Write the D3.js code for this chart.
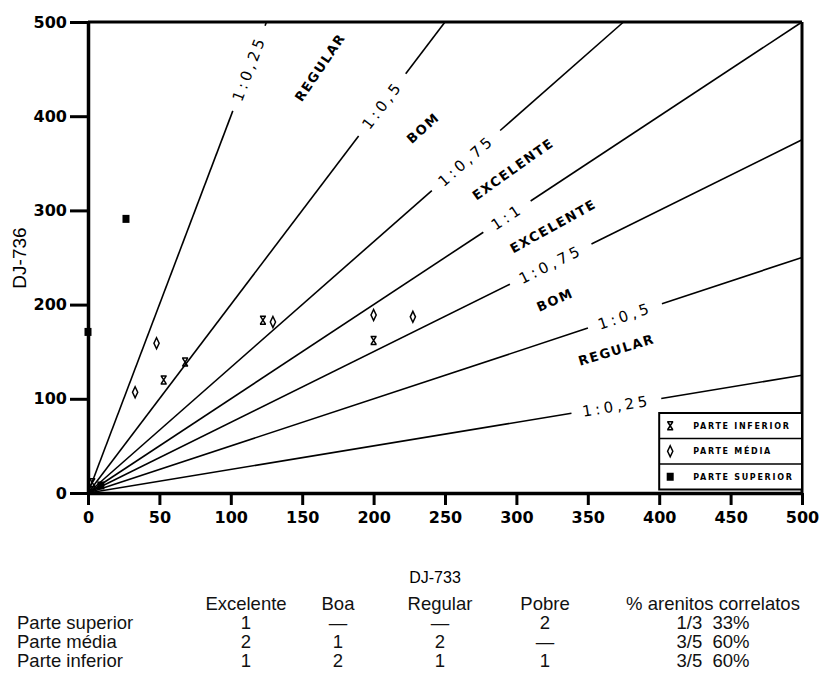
<!DOCTYPE html>
<html lang="pt">
  <head>
    <meta charset="utf-8">
    <title>DJ-733 x DJ-736</title>
    <script src="https://cdn.jsdelivr.net/npm/d3@7"></script>
    <style>
      body { margin: 0; background: #fff; }
      .tick text { font-family: "DejaVu Sans", sans-serif; font-weight: 600; }
      .tbl { font-family: "Liberation Sans Narrow", "Liberation Sans", sans-serif; font-size: 18.5px; fill: #111; }
    </style>
  </head>
  <body>
    <script>
      var w = 824;
      var h = 679;
      var pLeft = 88, pRight = 802, pTop = 22, pBottom = 493;

      // ratio lines DJ-736 : DJ-733
      var ratioLabels = ["1:0,25", "1:0,5", "1:0,75", "1:1", "1:0,75", "1:0,5", "1:0,25"];
      var ratioSlopes = [4, 2, 1 / 0.75, 1, 0.75, 0.5, 0.25];
      var zoneNames = ["REGULAR", "BOM", "EXCELENTE", "EXCELENTE", "BOM", "REGULAR"];

      var inferiorX = [53, 68, 122.5, 200, 3];
      var inferiorY = [120, 139, 183.5, 162, 11];
      var mediaX = [33, 48, 129.5, 200, 227.5];
      var mediaY = [107, 159, 181.5, 189, 187];
      var superiorX = [26.6, 0, 9];
      var superiorY = [291, 171, 8];

      var xTicks = [0, 50, 100, 150, 200, 250, 300, 350, 400, 450, 500];
      var yTicks = [0, 100, 200, 300, 400, 500];

      var legendNames = ["PARTE INFERIOR", "PARTE MÉDIA", "PARTE SUPERIOR"];

      var tableCols = ["Excelente", "Boa", "Regular", "Pobre", "% arenitos correlatos"];
      var tableRows = ["Parte superior", "Parte média", "Parte inferior"];
      var tableValues = [
        ["1", "—", "—", "2", "1/3  33%"],
        ["2", "1", "2", "—", "3/5  60%"],
        ["1", "2", "1", "1", "3/5  60%"]
      ];

      // layout of labels (data x of label centre on each line; zone label spots)
      var ratioLabelAt = [112.7, 206, 264.7, 293.4, 324, 376, 370];
      var zoneAt = [[162.5, 452, 56], [234.6, 387.5, 42], [297.6, 344, 35.5],
                    [325.6, 283.4, 29], [327, 205, 24], [370, 152, 17]];

      var xScale = d3.scaleLinear().domain([0, 500]).range([pLeft, pRight]);
      var yScale = d3.scaleLinear().domain([0, 500]).range([pBottom, pTop]);

      var svg = d3.select("body").append("svg")
                  .attr("width", w)
                  .attr("height", h);

      // ratio lines with a gap for their labels
      ratioSlopes.forEach(function (s, i) {
        var xe = s >= 1 ? 500 / s : 500;
        var x0 = xScale(0), y0 = yScale(0);
        var x1 = xScale(xe), y1 = yScale(xe * s);
        var len = Math.hypot(x1 - x0, y1 - y0);
        var ux = (x1 - x0) / len, uy = (y1 - y0) / len;
        var cx = xScale(ratioLabelAt[i]), cy = yScale(ratioLabelAt[i] * s);
        var d = Math.hypot(cx - x0, cy - y0);
        var ang = Math.atan2(uy, ux) * 180 / Math.PI;

        var label = svg.append("text")
           .attr("transform", "translate(" + cx + "," + cy + ") rotate(" + ang + ")")
           .attr("text-anchor", "middle")
           .attr("dy", "0.36em")
           .attr("font-family", "DejaVu Sans, sans-serif")
           .attr("font-size", 15)
           .attr("letter-spacing", 3.5)
           .text(ratioLabels[i]);
        var half = label.node().getComputedTextLength() / 2 + 11;

        var a = Math.max(d - half, 0), b = Math.min(d + half, len);
        svg.append("line")
           .attr("x1", x0).attr("y1", y0)
           .attr("x2", x0 + ux * a).attr("y2", y0 + uy * a)
           .attr("stroke", "#000").attr("stroke-width", 1.6);
        if (b < len) {
          svg.append("line")
             .attr("x1", x0 + ux * b).attr("y1", y0 + uy * b)
             .attr("x2", x1).attr("y2", y1)
             .attr("stroke", "#000").attr("stroke-width", 1.6);
        }
      });

      svg.selectAll("text.zone")
         .data(zoneNames)
         .enter()
         .append("text")
         .attr("class", "zone")
         .attr("transform", function (d, i) {
           return "translate(" + xScale(zoneAt[i][0]) + "," + yScale(zoneAt[i][1]) + ") rotate(" + (-zoneAt[i][2]) + ")";
         })
         .attr("text-anchor", "middle")
         .attr("dy", "0.36em")
         .attr("font-family", "DejaVu Sans, sans-serif")
         .attr("font-weight", "bold")
         .attr("font-size", 13)
         .attr("letter-spacing", 1.5)
         .text(function (d) { return d; });

      // frame
      svg.append("line").attr("x1", pLeft).attr("x2", pRight).attr("y1", pTop).attr("y2", pTop)
         .attr("stroke", "#000").attr("stroke-width", 3);
      svg.append("line").attr("x1", pRight).attr("x2", pRight).attr("y1", pTop).attr("y2", pBottom)
         .attr("stroke", "#000").attr("stroke-width", 3);

      var xAxis = d3.axisBottom(xScale).tickValues(xTicks).tickSize(12).tickPadding(7).tickSizeOuter(0);
      var yAxis = d3.axisLeft(yScale).tickValues(yTicks).tickSize(18).tickPadding(3).tickSizeOuter(0);

      var gx = svg.append("g")
         .attr("transform", "translate(0," + pBottom + ")")
         .call(xAxis);
      var gy = svg.append("g")
         .attr("transform", "translate(" + pLeft + ",0)")
         .call(yAxis);

      [gx, gy].forEach(function (g) {
        g.select(".domain").attr("stroke", "#000").attr("stroke-width", 3.5);
        g.selectAll(".tick line").attr("stroke", "#000").attr("stroke-width", 3);
        g.selectAll(".tick text").attr("font-size", 16).attr("fill", "#000");
      });

      // markers
      var markInferior = "M-3,-4H3M-3,4H3M-2.6,-4L2.6,4M2.6,-4L-2.6,4";
      var markMedia = "M0,-5.5L2.6,0L0,5.5L-2.6,0Z";

      svg.selectAll("path.inf")
         .data(inferiorX)
         .enter()
         .append("path")
         .attr("class", "inf")
         .attr("d", markInferior)
         .attr("transform", function (d, i) { return "translate(" + xScale(d) + "," + yScale(inferiorY[i]) + ")"; })
         .attr("fill", "none").attr("stroke", "#000").attr("stroke-width", 1.5);

      svg.selectAll("path.med")
         .data(mediaX)
         .enter()
         .append("path")
         .attr("class", "med")
         .attr("d", markMedia)
         .attr("transform", function (d, i) { return "translate(" + xScale(d) + "," + yScale(mediaY[i]) + ")"; })
         .attr("fill", "#fff").attr("stroke", "#000").attr("stroke-width", 1.5);

      svg.selectAll("rect.sup")
         .data(superiorX)
         .enter()
         .append("rect")
         .attr("class", "sup")
         .attr("x", function (d) { return xScale(d) - 3.5; })
         .attr("y", function (d, i) { return yScale(superiorY[i]) - 4; })
         .attr("width", 7).attr("height", 8)
         .attr("fill", "#000");

      // legend
      var lgX = xScale(400), lgTop = pBottom - 80, rowH = 25.5;
      var lg = svg.append("g");
      lg.append("rect")
        .attr("x", lgX).attr("y", lgTop)
        .attr("width", pRight - lgX).attr("height", rowH * 3)
        .attr("fill", "#fff").attr("stroke", "#000").attr("stroke-width", 2);
      legendNames.forEach(function (name, i) {
        var ry = lgTop + rowH * i;
        if (i > 0) {
          lg.append("line").attr("x1", lgX).attr("x2", pRight).attr("y1", ry).attr("y2", ry)
            .attr("stroke", "#000").attr("stroke-width", 1.5);
        }
        var mx = lgX + 11, my = ry + rowH / 2;
        if (i === 0) {
          lg.append("path").attr("d", markInferior).attr("transform", "translate(" + mx + "," + my + ")")
            .attr("fill", "none").attr("stroke", "#000").attr("stroke-width", 1.5);
        } else if (i === 1) {
          lg.append("path").attr("d", markMedia).attr("transform", "translate(" + mx + "," + my + ")")
            .attr("fill", "none").attr("stroke", "#000").attr("stroke-width", 1.5);
        } else {
          lg.append("rect").attr("x", mx - 3.5).attr("y", my - 4).attr("width", 7).attr("height", 8).attr("fill", "#000");
        }
        lg.append("text")
          .attr("x", lgX + 34).attr("y", my)
          .attr("dy", "0.36em")
          .attr("font-family", "DejaVu Sans, sans-serif")
          .attr("font-weight", "bold")
          .attr("font-size", 8)
          .attr("letter-spacing", 1.7)
          .text(name);
      });

      // axis titles
      svg.append("text")
         .attr("transform", "translate(19,258) rotate(-90)")
         .attr("text-anchor", "middle")
         .attr("dy", "0.36em")
         .attr("font-family", "Liberation Sans, sans-serif")
         .attr("font-size", 19)
         .text("DJ-736");
      svg.append("text")
         .attr("x", 435)
         .attr("y", 583)
         .attr("text-anchor", "middle")
         .attr("font-family", "Liberation Sans, sans-serif")
         .attr("font-size", 16)
         .text("DJ-733");

      // summary table
      var colX = [246, 338, 440, 545, 713];
      var headY = 610, rowY = [629, 648, 667];
      svg.selectAll("text.head")
         .data(tableCols)
         .enter()
         .append("text")
         .attr("class", "tbl head")
         .attr("x", function (d, i) { return colX[i]; })
         .attr("y", headY)
         .attr("text-anchor", "middle")
         .text(function (d) { return d; });
      tableRows.forEach(function (r, j) {
        svg.append("text").attr("class", "tbl").attr("x", 17).attr("y", rowY[j]).text(r);
        svg.selectAll("text.v" + j)
           .data(tableValues[j])
           .enter()
           .append("text")
           .attr("class", "tbl v" + j)
           .attr("x", function (d, i) { return colX[i]; })
           .attr("y", rowY[j])
           .attr("text-anchor", "middle")
           .style("white-space", "pre")
           .text(function (d) { return d; });
      });
    </script>
  </body>
</html>
